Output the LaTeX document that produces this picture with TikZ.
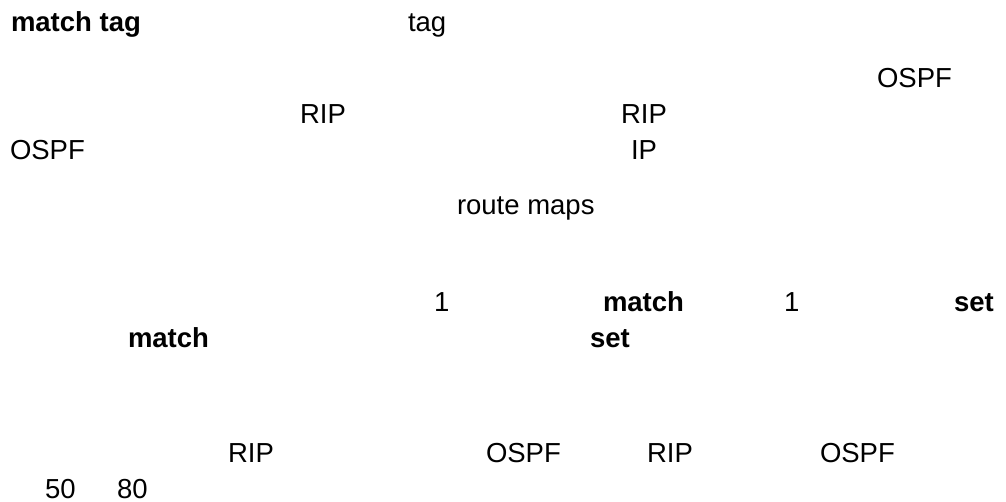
\documentclass[tikz,border=0pt]{standalone}
\usepackage{fontspec}
\setmainfont{Liberation Sans}
\begin{document}
\begin{tikzpicture}[x=1pt,y=-1pt,
  txt/.style={anchor=base west,inner sep=0pt,outer sep=0pt,font=\fontsize{27.5}{33}\selectfont},
  btxt/.style={txt,font=\fontsize{27.5}{33}\selectfont\bfseries}]
\useasboundingbox[fill=white] (0,0) rectangle (1006,502);
\node[btxt] (t1) at (11,32) {match tag};
\node[txt] (t2) at (408,32) {tag};
\node[txt] (t3) at (877,88) {OSPF};
\node[txt] (t4) at (300,124) {RIP};
\node[txt] (t5) at (621,124) {RIP};
\node[txt] (t6) at (10,160) {OSPF};
\node[txt] (t7) at (631,160) {IP};
\node[txt] (t8) at (457,215) {route maps};
\node[txt] (t9) at (434,312) {1};
\node[btxt] (t10) at (603,312) {match};
\node[txt] (t11) at (784,312) {1};
\node[btxt] (t12) at (954,312) {set};
\node[btxt] (t13) at (128,348) {match};
\node[btxt] (t14) at (590,348) {set};
\node[txt] (t15) at (228,462) {RIP};
\node[txt] (t16) at (486,462) {OSPF};
\node[txt] (t17) at (647,462) {RIP};
\node[txt] (t18) at (820,462) {OSPF};
\node[txt] (t19) at (45,498) {50};
\node[txt] (t20) at (117,498) {80};
\end{tikzpicture}
\end{document}
